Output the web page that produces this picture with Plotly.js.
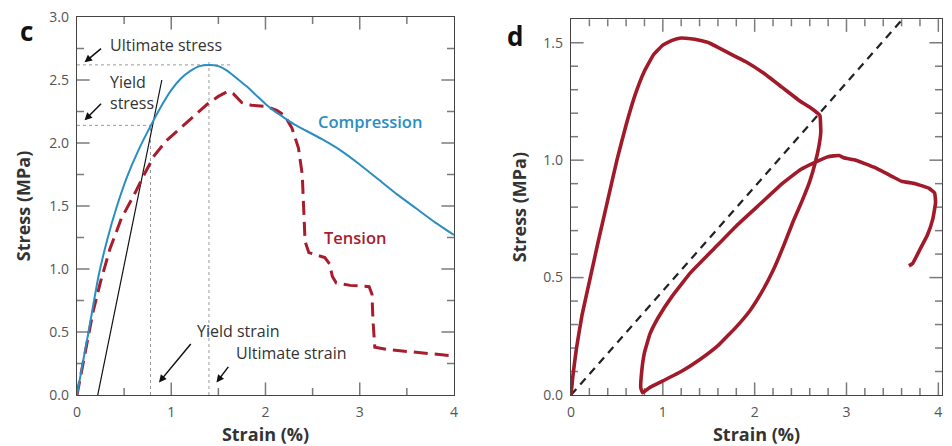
<!DOCTYPE html>
<html>
<head>
<meta charset="utf-8">
<script src="https://cdn.plot.ly/plotly-3.0.1.min.js"></script>
<style>html,body{margin:0;padding:0;background:#fff;}#chart{width:952px;height:446px;}</style>
</head>
<body>
<div id="chart"></div>
<script>
// ---- Panel c: stress–strain, compression vs tension ----
const compStrain = [0,0.06,0.12,0.23,0.32,0.42,0.53,0.65,0.77,0.9,1.0,1.1,1.2,1.3,1.4,1.5,1.6,1.7,1.8,1.9,2.0,2.1,2.2,2.3,2.4,2.6,2.8,3.0,3.2,3.4,3.6,3.8,4.0];
const compStress = [0,0.25,0.49,0.95,1.23,1.49,1.73,1.94,2.12,2.30,2.42,2.51,2.57,2.61,2.62,2.61,2.57,2.51,2.45,2.38,2.31,2.25,2.20,2.15,2.11,2.03,1.94,1.83,1.71,1.59,1.48,1.37,1.27];
const tensStrain = [0,0.1,0.17,0.25,0.35,0.47,0.6,0.72,0.82,0.95,1.1,1.25,1.4,1.5,1.6,1.66,1.75,1.85,2.0,2.12,2.2,2.28,2.35,2.39,2.41,2.42,2.46,2.55,2.63,2.68,2.71,2.75,2.9,3.1,3.13,3.14,3.16,3.3,3.6,3.85,4.0];
const tensStress = [0,0.38,0.66,0.90,1.16,1.40,1.58,1.76,1.90,2.02,2.12,2.22,2.32,2.37,2.41,2.39,2.32,2.30,2.29,2.26,2.22,2.12,1.96,1.75,1.45,1.22,1.13,1.11,1.09,1.04,0.94,0.89,0.87,0.86,0.80,0.60,0.38,0.36,0.34,0.32,0.31];
const modulusStrain = [0.22,0.90];
const modulusStress = [0,2.50];
const ultimateStress = 2.62;
const yieldStress = 2.14;
const yieldStrain = 0.78;
const ultimateStrain = 1.40;

// ---- Panel d: cyclic loading ----
const cycStrain = [0,0.02,0.06,0.12,0.21,0.3,0.4,0.5,0.6,0.7,0.8,0.9,1.0,1.1,1.2,1.35,1.5,1.7,1.9,2.1,2.3,2.5,2.62,2.71,2.72,2.70,2.66,2.60,2.52,2.42,2.32,2.2,2.08,1.95,1.8,1.6,1.4,1.2,1.0,0.85,0.78,0.76,0.77,0.80,0.86,0.95,1.1,1.3,1.55,1.8,2.05,2.3,2.5,2.65,2.8,2.92,2.97,3.1,3.3,3.5,3.6,3.75,3.9,3.96,3.97,3.94,3.88,3.8,3.72,3.68];
const cycStress = [0,0.08,0.20,0.34,0.50,0.66,0.83,1.00,1.15,1.28,1.38,1.45,1.49,1.51,1.52,1.515,1.50,1.46,1.42,1.37,1.31,1.25,1.22,1.19,1.12,1.06,0.99,0.91,0.83,0.74,0.64,0.53,0.44,0.36,0.29,0.21,0.15,0.10,0.06,0.03,0.01,0.03,0.10,0.18,0.26,0.33,0.42,0.52,0.62,0.72,0.81,0.90,0.96,0.99,1.015,1.02,1.01,1.00,0.97,0.93,0.91,0.90,0.88,0.86,0.82,0.75,0.68,0.62,0.56,0.55];
const refStrain = [0,3.61];
const refStress = [0,1.60];

// ---- tick labels ----
const strainTicks = [0,1,2,3,4];
const strainTickText = ['0','1','2','3','4'];
const cStressTicks = [0,0.5,1,1.5,2,2.5,3];
const cStressTickText = ['0.0','0.5','1.0','1.5','2.0','2.5','3.0'];
const dStressTicks = [0,0.5,1,1.5];
const dStressTickText = ['0.0','0.5','1.0','1.5'];

const FONT = 'Open Sans, Noto Sans, sans-serif';
const AX = '#444';
const BLUE = '#2a8ec0';
const RED = '#a81c2c';
const GUIDE = '#9a9a9a';

const C_DOM_X = [0,0.4358], C_DOM_Y = [0,1], D_DOM_X = [0.5711,1], D_DOM_Y = [0,0.994];
const C_RX = [0,4], C_RY = [0,3], D_RX = [0,4.04], D_RY = [0,1.6];

// inside tick marks on all four sides: line-shaped markers centred on the frame,
// the outer half is clipped away by the plot area
function tickMarkers(xa, ya, xr, yr, xMajor, xStep, yMajor, yStep){
  const isMaj = (arr,v)=>arr.some(m=>Math.abs(m-v)<1e-6);
  const hx=[], hy=[], hs=[], vx=[], vy=[], vs=[];
  const nx = Math.round((xr[1]-xr[0])/xStep);
  for(let i=1;i<=nx;i++){
    const v = +(xr[0]+i*xStep).toFixed(4); if(v>=xr[1]-1e-6) continue;
    const s = isMaj(xMajor,v)?18:10;
    hx.push(v,v); hy.push(yr[0],yr[1]); hs.push(s,s);
  }
  const ny = Math.round((yr[1]-yr[0])/yStep);
  for(let i=1;i<=ny;i++){
    const v = +(yr[0]+i*yStep).toFixed(4); if(v>=yr[1]-1e-6) continue;
    const s = isMaj(yMajor,v)?18:10;
    vy.push(v,v); vx.push(xr[0],xr[1]); vs.push(s,s);
  }
  return [
    {x:hx, y:hy, mode:'markers', marker:{symbol:'line-ns', size:hs, color:AX, line:{color:AX,width:1.5}}, xaxis:xa, yaxis:ya, hoverinfo:'skip', cliponaxis:true},
    {x:vx, y:vy, mode:'markers', marker:{symbol:'line-ew', size:vs, color:AX, line:{color:AX,width:1.5}}, xaxis:xa, yaxis:ya, hoverinfo:'skip', cliponaxis:true}
  ];
}

const traces = [
  {x:[0,ultimateStrain+0.25], y:[ultimateStress,ultimateStress], mode:'lines', line:{color:GUIDE,width:1,dash:'3px,3px'}, xaxis:'x', yaxis:'y', hoverinfo:'skip'},
  {x:[0,yieldStrain], y:[yieldStress,yieldStress], mode:'lines', line:{color:GUIDE,width:1,dash:'3px,3px'}, xaxis:'x', yaxis:'y', hoverinfo:'skip'},
  {x:[yieldStrain,yieldStrain], y:[0,yieldStress], mode:'lines', line:{color:GUIDE,width:1,dash:'3px,3px'}, xaxis:'x', yaxis:'y', hoverinfo:'skip'},
  {x:[ultimateStrain,ultimateStrain], y:[0,ultimateStress+0.04], mode:'lines', line:{color:GUIDE,width:1,dash:'3px,3px'}, xaxis:'x', yaxis:'y', hoverinfo:'skip'}
].concat(
  tickMarkers('x','y',C_RX,C_RY,strainTicks,0.5,cStressTicks,0.25),
  tickMarkers('x2','y2',D_RX,D_RY,strainTicks,0.2,dStressTicks,0.1),
  [
  {x:modulusStrain, y:modulusStress, mode:'lines', line:{color:'#111',width:1.2}, xaxis:'x', yaxis:'y'},
  {x:tensStrain, y:tensStress, mode:'lines', name:'Tension', line:{color:RED,width:3,dash:'14px,7px'}, xaxis:'x', yaxis:'y'},
  {x:compStrain, y:compStress, mode:'lines', name:'Compression', line:{color:BLUE,width:2,shape:'spline',smoothing:0.5}, xaxis:'x', yaxis:'y'},
  {x:refStrain, y:refStress, mode:'lines', line:{color:'#222',width:2.2,dash:'8px,6px'}, xaxis:'x2', yaxis:'y2'},
  {x:cycStrain, y:cycStress, mode:'lines', line:{color:'#a01a2a',width:3.6,shape:'spline',smoothing:0.3}, xaxis:'x2', yaxis:'y2'}
  ]
);

const tickFont = {family:FONT, size:14, color:'#555'};
const tFont = {family:FONT, size:18, color:'#333', weight:'bold'};

function axis(extra){
  return Object.assign({showline:true, linecolor:AX, linewidth:1.3, mirror:true, ticks:'',
    ticklabelstandoff:4, tickfont:tickFont, showgrid:false, zeroline:false}, extra);
}

const layout = {
  width:952, height:446,
  margin:{l:77, r:10, t:17, b:51},
  paper_bgcolor:'#fff', plot_bgcolor:'#fff',
  showlegend:false,
  xaxis: axis({domain:C_DOM_X, range:C_RX, tickvals:strainTicks, ticktext:strainTickText,
    title:{text:'Strain (%)', font:tFont, standoff:14}}),
  yaxis: axis({domain:C_DOM_Y, range:C_RY, tickvals:cStressTicks, ticktext:cStressTickText,
    title:{text:'Stress (MPa)', font:tFont, standoff:14}}),
  xaxis2: axis({domain:D_DOM_X, range:D_RX, anchor:'y2', tickvals:strainTicks, ticktext:strainTickText,
    title:{text:'Strain (%)', font:tFont, standoff:14}}),
  yaxis2: axis({domain:D_DOM_Y, range:D_RY, anchor:'x2', tickvals:dStressTicks, ticktext:dStressTickText,
    title:{text:'Stress (MPa)', font:tFont, standoff:12}}),
  annotations:[
    {xref:'paper', yref:'paper', x:-0.058, y:0.962, xanchor:'center', yanchor:'middle', text:'c', showarrow:false, font:{family:FONT,size:26,color:'#111',weight:'bold'}},
    {xref:'paper', yref:'paper', x:0.506, y:0.950, xanchor:'center', yanchor:'middle', text:'d', showarrow:false, font:{family:FONT,size:26,color:'#111',weight:'bold'}},
    {xref:'x', yref:'y', x:0.33, y:2.78, xanchor:'left', yanchor:'middle', text:'Ultimate stress', showarrow:false, font:{family:FONT,size:16,color:'#333'}},
    {xref:'x', yref:'y', x:0.33, y:2.40, xanchor:'left', yanchor:'middle', align:'left', text:'Yield<br>stress', showarrow:false, font:{family:FONT,size:16,color:'#333'}},
    {xref:'x', yref:'y', x:1.25, y:0.51, xanchor:'left', yanchor:'middle', text:'Yield strain', showarrow:false, font:{family:FONT,size:16,color:'#333'}},
    {xref:'x', yref:'y', x:1.67, y:0.33, xanchor:'left', yanchor:'middle', text:'Ultimate strain', showarrow:false, font:{family:FONT,size:16,color:'#333'}},
    {xref:'x', yref:'y', x:2.54, y:2.17, xanchor:'left', yanchor:'middle', text:'Compression', showarrow:false, font:{family:FONT,size:16.5,color:BLUE,weight:600}},
    {xref:'x', yref:'y', x:2.60, y:1.25, xanchor:'left', yanchor:'middle', text:'Tension', showarrow:false, font:{family:FONT,size:16.5,color:RED,weight:600}},
    {xref:'x', yref:'y', x:0.08, y:2.64, text:'', showarrow:true, arrowhead:2, arrowsize:1, arrowwidth:1.5, arrowcolor:'#111', ax:18, ay:-15},
    {xref:'x', yref:'y', x:0.08, y:2.18, text:'', showarrow:true, arrowhead:2, arrowsize:1, arrowwidth:1.5, arrowcolor:'#111', ax:18, ay:-18},
    {xref:'x', yref:'y', x:0.87, y:0.10, text:'', showarrow:true, arrowhead:2, arrowsize:1, arrowwidth:1.5, arrowcolor:'#111', ax:33, ay:-40},
    {xref:'x', yref:'y', x:1.48, y:0.10, text:'', showarrow:true, arrowhead:2, arrowsize:1, arrowwidth:1.5, arrowcolor:'#111', ax:13, ay:-17}
  ]
};

Plotly.newPlot('chart', traces, layout, {displayModeBar:false});
</script>
</body>
</html>
